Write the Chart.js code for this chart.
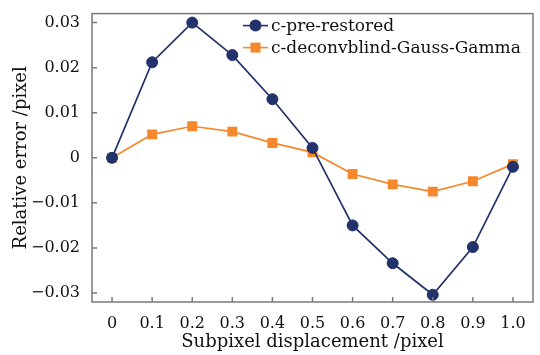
<!DOCTYPE html>
<html lang="en">
<head>
    <meta charset="UTF-8">
    <title>Relative error vs subpixel displacement</title>
    <script src="https://cdn.jsdelivr.net/npm/chart.js"></script>
    <style>
        html, body { margin: 0; padding: 0; background: #fff; }
        #wrap { width: 540px; height: 355px; }
    </style>
</head>
<body>
    <div id="wrap"><canvas id="grafico"></canvas></div>

    <script>
        // Subpixel displacement (pixel)
        const deslocamentos = [0, 0.1, 0.2, 0.3, 0.4, 0.5, 0.6, 0.7, 0.8, 0.9, 1.0];
        // Relative error (pixel) for each method
        const erroPreRestored = [0, 0.0212, 0.0300, 0.0228, 0.0130, 0.0022, -0.0150, -0.0234, -0.0304, -0.0198, -0.0020];
        const erroDeconvblind = [0, 0.0052, 0.0070, 0.0058, 0.0033, 0.0012, -0.0036, -0.0059, -0.0075, -0.0052, -0.0014];
        const nomesSeries = ['c-pre-restored', 'c-deconvblind-Gauss-Gamma'];

        const ticksX = [0, 0.1, 0.2, 0.3, 0.4, 0.5, 0.6, 0.7, 0.8, 0.9, 1.0];
        const rotulosX = ['0', '0.1', '0.2', '0.3', '0.4', '0.5', '0.6', '0.7', '0.8', '0.9', '1.0'];
        const ticksY = [-0.03, -0.02, -0.01, 0, 0.01, 0.02, 0.03];
        const rotulosY = ['\u22120.03', '\u22120.02', '\u22120.01', '0', '0.01', '0.02', '0.03'];

        const AZUL = '#22326a';
        const LARANJA = '#f5882c';
        const FONTE = "'DejaVu Serif', serif";
        const TEXTO = '#111';

        const pontos = (ys) => deslocamentos.map((x, i) => ({ x: x, y: ys[i] }));

        // frame, inward tick marks and the legend in the upper right corner
        const moldura = {
            id: 'moldura',
            afterDraw(chart) {
                const { ctx, chartArea: a, scales } = chart;
                ctx.save();
                ctx.strokeStyle = '#7a7a7a';
                ctx.lineWidth = 1.5;
                ctx.strokeRect(a.left, a.top, a.right - a.left, a.bottom - a.top);

                ctx.beginPath();
                scales.x.ticks.forEach((t, i) => {
                    const px = scales.x.getPixelForTick(i);
                    ctx.moveTo(px, a.bottom);
                    ctx.lineTo(px, a.bottom - 5);
                });
                scales.y.ticks.forEach((t, i) => {
                    const py = scales.y.getPixelForTick(i);
                    ctx.moveTo(a.left, py);
                    ctx.lineTo(a.left + 5, py);
                });
                ctx.stroke();

                // legend
                ctx.font = '17px ' + FONTE;
                ctx.textBaseline = 'middle';
                chart.data.datasets.forEach((ds, i) => {
                    const x0 = a.left + 151;
                    const y = a.top + 12 + i * 22;
                    ctx.strokeStyle = ds.borderColor;
                    ctx.lineWidth = 1.6;
                    ctx.beginPath();
                    ctx.moveTo(x0, y);
                    ctx.lineTo(x0 + 25, y);
                    ctx.stroke();
                    ctx.fillStyle = ds.pointBackgroundColor;
                    ctx.beginPath();
                    if (ds.pointStyle === 'rect') {
                        ctx.rect(x0 + 12.5 - 5, y - 5, 10, 10);
                    } else {
                        ctx.arc(x0 + 12.5, y, 6, 0, Math.PI * 2);
                    }
                    ctx.fill();
                    ctx.fillStyle = TEXTO;
                    ctx.fillText(ds.label, x0 + 28, y + 1);
                });
                ctx.restore();
            }
        };

        const ctx = document.getElementById('grafico').getContext('2d');
        new Chart(ctx, {
            type: 'line',
            data: {
                datasets: [
                    {
                        label: nomesSeries[0],
                        data: pontos(erroPreRestored),
                        borderColor: AZUL,
                        backgroundColor: AZUL,
                        pointBackgroundColor: AZUL,
                        pointBorderColor: AZUL,
                        pointStyle: 'circle',
                        pointRadius: 5.5,
                        pointBorderWidth: 1,
                        borderWidth: 1.7,
                        tension: 0
                    },
                    {
                        label: nomesSeries[1],
                        data: pontos(erroDeconvblind),
                        borderColor: LARANJA,
                        backgroundColor: LARANJA,
                        pointBackgroundColor: LARANJA,
                        pointBorderColor: LARANJA,
                        pointStyle: 'rect',
                        pointRadius: 7,
                        pointBorderWidth: 0,
                        borderWidth: 1.7,
                        tension: 0
                    }
                ]
            },
            options: {
                responsive: true,
                maintainAspectRatio: false,
                animation: false,
                layout: { padding: { top: 7, right: 2, left: 0, bottom: 0 } },
                plugins: {
                    legend: { display: false },
                    tooltip: { enabled: false }
                },
                scales: {
                    x: {
                        type: 'linear',
                        min: -0.05,
                        max: 1.05,
                        afterBuildTicks: (s) => { s.ticks = ticksX.map(v => ({ value: v })); },
                        afterFit: (s) => { s.height = 53; },
                        grid: { display: false },
                        border: { display: false },
                        ticks: {
                            padding: 4,
                            color: TEXTO,
                            font: { family: FONTE, size: 16 },
                            maxRotation: 0,
                            callback: (v) => rotulosX[ticksX.findIndex(t => Math.abs(t - v) < 1e-9)]
                        },
                        title: {
                            display: true,
                            text: 'Subpixel displacement /pixel',
                            color: TEXTO,
                            font: { family: FONTE, size: 18 },
                            padding: { top: 0, bottom: 2 }
                        }
                    },
                    y: {
                        min: -0.032,
                        max: 0.032,
                        afterBuildTicks: (s) => { s.ticks = ticksY.map(v => ({ value: v })); },
                        afterFit: (s) => { s.width = 92; },
                        grid: { display: false },
                        border: { display: false },
                        ticks: {
                            padding: 4,
                            color: TEXTO,
                            font: { family: FONTE, size: 16 },
                            callback: (v) => rotulosY[ticksY.findIndex(t => Math.abs(t - v) < 1e-9)]
                        },
                        title: {
                            display: true,
                            text: 'Relative error /pixel',
                            color: TEXTO,
                            font: { family: FONTE, size: 18 },
                            padding: { top: 11, bottom: 0 }
                        }
                    }
                }
            },
            plugins: [moldura]
        });
    </script>
</body>
</html>
